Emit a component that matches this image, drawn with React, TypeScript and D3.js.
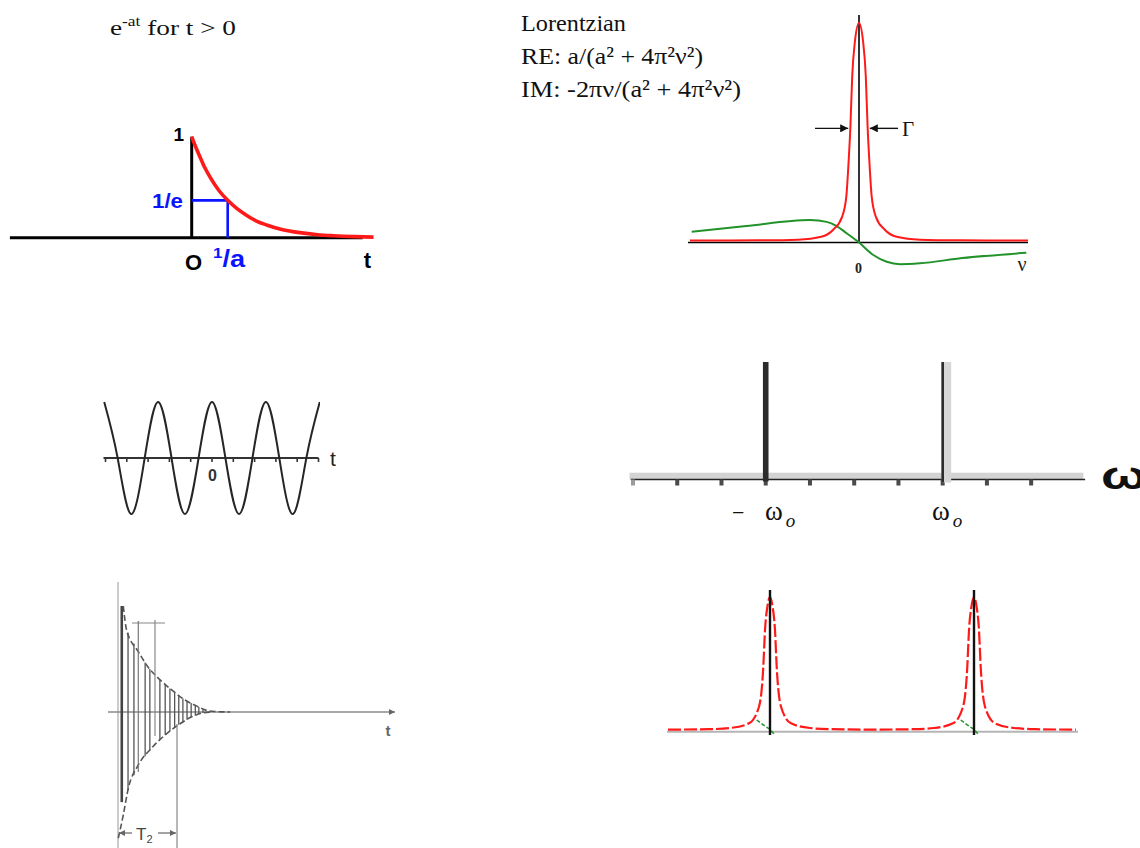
import React from 'react';
import * as d3 from 'd3';

const W = 1140;
const H = 848;
const SERIF = '"Liberation Serif", "Times New Roman", serif';
const SANS = '"Liberation Sans", Arial, sans-serif';
const RED = '#ff1a1a';
const GREEN = '#22922a';
const BLUE = '#0a14ff';

// ---- Panel 1: e^{-at}, t in units of 1/a ----
const decayT = [0, 0.12, 0.23, 0.37, 0.51, 0.75, 1.0, 1.25, 1.53, 1.8, 2.08, 2.5, 3.0, 3.5, 3.93, 4.5, 5.05];
const decayV = [1, 0.89, 0.8, 0.69, 0.6, 0.47, 0.37, 0.29, 0.22, 0.165, 0.126, 0.082, 0.05, 0.03, 0.02, 0.011, 0.006];
const decayAxisT = [-5.05, 4.75];
const markT = 1.0; // 1/a
const markV = 0.37; // 1/e

// ---- Panel 2: Lorentzian real (absorption) and imaginary (dispersion) parts ----
const reNu = [-10, -6, -3.6, -2.23, -1.54, -1.0, -0.75, -0.61, -0.51, -0.4, -0.25, 0, 0.25, 0.4, 0.51, 0.61, 0.75, 1.0, 1.54, 2.23, 3.6, 6, 10];
const reV = [0.009, 0.01, 0.013, 0.026, 0.057, 0.117, 0.21, 0.375, 0.525, 0.76, 0.91, 1.0, 0.91, 0.76, 0.525, 0.375, 0.21, 0.117, 0.057, 0.026, 0.013, 0.01, 0.009];
const imNu = [-9.9, -6.67, -2.9, -1.91, -1.32, -0.73, 0, 0.85, 1.64, 2.43, 3.6, 6.1, 9.9];
const imV = [0.049, 0.075, 0.102, 0.094, 0.075, 0.042, 0, -0.057, -0.088, -0.099, -0.095, -0.071, -0.047];
const nuDomain = [-10, 10];
const gammaHalf = 0.55; // half width of the marked line width
const lorentzLines = ['Lorentzian', 'RE: a/(a\u00B2 + 4\u03C0\u00B2\u03BD\u00B2)', 'IM: -2\u03C0\u03BD/(a\u00B2 + 4\u03C0\u00B2\u03BD\u00B2)'];
const lorentzWidths = [105, 182, 220];

// ---- Panel 3: cos(w0 t), points at quarter periods ----
const cosT = [-5.06, -4.43, -3.8, -3.16, -2.53, -1.9, -1.27, -0.63, 0, 0.63, 1.27, 1.9, 2.53, 3.16, 3.8, 4.43, 5.06];
const cosV = [1, 0, -1, 0, 1, 0, -1, 0, 1, 0, -1, 0, 1, 0, -1, 0, 1];
const cosTicks = [-5, -4, -3, -2, -1, 0, 1, 2, 3, 4, 5];

// ---- Panel 4: spectrum of the cosine, two delta lines at -w0 and +w0 ----
const specTicks = [-5, -4, -3, -2, -1, 0, 1, 2, 3, 4];
const deltaPos = [-2, 2];
const deltaAmp = [1, 1];

// ---- Panel 5: free induction decay (t in units of T2) ----
const fidUpperT = [0.09, 0.147, 0.344, 0.514, 0.683, 0.91, 1.136, 1.36, 1.475, 1.64, 1.9];
const fidUpperV = [1.0, 0.77, 0.57, 0.42, 0.32, 0.208, 0.113, 0.05, 0.02, 0.005, 0];
const fidLowerT = [0.005, 0.09, 0.175, 0.344, 0.57, 0.797, 1.02, 1.25, 1.42, 1.6];
const fidLowerV = [-1.19, -0.97, -0.72, -0.5, -0.34, -0.217, -0.123, -0.045, -0.01, 0];
const fidStrokeT = [0.17, 0.27, 0.46, 0.54, 0.71, 0.8, 0.88, 0.96, 1.03, 1.1, 1.17, 1.24, 1.31, 1.37, 1.44];
const fidSpikeT = 0.064;
const fidPeriodT = [0.344, 0.627];

// ---- Panel 6: two Lorentzian lines at -w0 and +w0 ----
const peakCenters = [-1, 1];
const peakDx = [-1, -0.6, -0.392, -0.206, -0.108, -0.066, -0.049, -0.025, 0, 0.025, 0.049, 0.066, 0.108, 0.206, 0.392, 0.6, 1];
const peakV = [0.003, 0.006, 0.015, 0.05, 0.175, 0.47, 0.75, 0.93, 1.0, 0.93, 0.75, 0.47, 0.175, 0.05, 0.015, 0.006, 0.003];
const dispDx = [-0.13, -0.07, 0, 0.049];
const dispV = [0.075, 0.04, 0.005, -0.038];

function interp(ts: number[], vs: number[], t: number) {
  if (t <= ts[0]) return vs[0];
  if (t >= ts[ts.length - 1]) return vs[vs.length - 1];
  const i = d3.bisectRight(ts, t);
  const k = (t - ts[i - 1]) / (ts[i] - ts[i - 1]);
  return vs[i - 1] + k * (vs[i] - vs[i - 1]);
}

function lineOf(xs: number[], ys: number[], sx: (v: number) => number, sy: (v: number) => number, curve: d3.CurveFactory) {
  return d3
    .line<number>()
    .x((_, i) => sx(xs[i]))
    .y((d) => sy(d))
    .curve(curve)(ys) as string;
}

export default function App() {
  // Panel 1 scales
  const x1 = d3.scaleLinear().domain([0, 1]).range([191.7, 227.7]);
  const y1 = d3.scaleLinear().domain([0, 1]).range([237.7, 136.7]);
  const decayPath = lineOf(decayT, decayV, x1, y1, d3.curveMonotoneX);

  // Panel 2 scales
  const x2 = d3.scaleLinear().domain(nuDomain).range([690, 1028]);
  const y2 = d3.scaleLinear().domain([0, 1]).range([242.5, 23]);
  const rePath = lineOf(reNu, reV, x2, y2, d3.curveMonotoneX);
  const imPath = lineOf(imNu, imV, x2, y2, d3.curveMonotoneX);
  const arrowY = y2(0.52);

  // Panel 3 scales
  const x3 = d3.scaleLinear().domain([-5, 5]).range([105.5, 318.5]);
  const y3 = d3.scaleLinear().domain([-1, 1]).range([514, 402]);
  const cosPath = lineOf(cosT, cosV, x3, y3, d3.curveNatural);

  // Panel 4 scales
  const x4 = d3.scaleLinear().domain([-5, 5]).range([633, 1075.4]);
  const y4 = d3.scaleLinear().domain([0, 1]).range([479.5, 362]);

  // Panel 5 scales
  const x5 = d3.scaleLinear().domain([0, 1]).range([118, 177]);
  const y5 = d3.scaleLinear().domain([-1, 1]).range([818, 606]);
  const upperPath = lineOf(fidUpperT, fidUpperV, x5, y5, d3.curveMonotoneX);
  const lowerPath = lineOf(fidLowerT, fidLowerV, x5, y5, d3.curveMonotoneX);

  // Panel 6 scales
  const x6 = d3.scaleLinear().domain([-2, 2]).range([668, 1076]);
  const y6 = d3.scaleLinear().domain([0, 1]).range([730, 597]);
  const redT: number[] = [];
  const redV: number[] = [];
  peakCenters.forEach((c, j) => {
    peakDx.forEach((dx, i) => {
      if (j > 0 && i === 0) return;
      redT.push(c + dx);
      redV.push(peakV[i]);
    });
  });
  const redPath = lineOf(redT, redV, x6, y6, d3.curveMonotoneX);

  return (
    <svg
      width={W}
      height={H}
      viewBox={`0 0 ${W} ${H}`}
      style={{ position: 'absolute', left: 0, top: 0, background: '#fff', display: 'block' }}
    >
      <defs>
        <marker id="ah" viewBox="0 0 10 10" refX="10" refY="5" markerWidth="9" markerHeight="8" markerUnits="userSpaceOnUse" orient="auto">
          <path d="M0,0 L10,5 L0,10 z" fill="#111" />
        </marker>
        <marker id="ahg" viewBox="0 0 10 10" refX="10" refY="5" markerWidth="8" markerHeight="6" markerUnits="userSpaceOnUse" orient="auto">
          <path d="M0,0 L10,5 L0,10 z" fill="#666" />
        </marker>
        <clipPath id="cosClip">
          <rect x={103} y={380} width={217} height={150} />
        </clipPath>
      </defs>
      <rect x={0} y={0} width={W} height={H} fill="#fff" />

      {/* ===== Panel 1: exponential decay ===== */}
      <text x={110} y={35} fontFamily={SERIF} fontSize={22} fill="#111" textLength={126} lengthAdjust="spacingAndGlyphs">
        e<tspan fontSize={14} dy={-9}>-at</tspan>
        <tspan dy={9}> for t &gt; 0</tspan>
      </text>
      <line x1={x1(decayAxisT[0])} x2={x1(decayAxisT[1])} y1={y1(0)} y2={y1(0)} stroke="#000" strokeWidth={3} />
      <line x1={x1(0)} x2={x1(0)} y1={y1(0)} y2={y1(1)} stroke="#000" strokeWidth={3} />
      <path
        d={`M${x1(0)},${y1(markV)} H${x1(markT)} V${y1(0)}`}
        fill="none"
        stroke={BLUE}
        strokeWidth={2.6}
      />
      <path d={decayPath} fill="none" stroke={RED} strokeWidth={3.6} />
      <text x={184} y={141} textAnchor="end" fontFamily={SANS} fontWeight="bold" fontSize={19}>1</text>
      <text x={183} y={208} textAnchor="end" fontFamily={SANS} fontWeight="bold" fontSize={20} fill={BLUE} textLength={31} lengthAdjust="spacingAndGlyphs">1/e</text>
      <text x={193.5} y={270} textAnchor="middle" fontFamily={SANS} fontWeight="bold" fontSize={22}>O</text>
      <text x={213} y={267} fontFamily={SANS} fontWeight="bold" fontSize={24} fill={BLUE} textLength={32} lengthAdjust="spacingAndGlyphs">
        <tspan fontSize={15} dy={-9}>1</tspan>
        <tspan dy={9}>/a</tspan>
      </text>
      <text x={367.5} y={268} textAnchor="middle" fontFamily={SANS} fontWeight="bold" fontSize={22}>t</text>

      {/* ===== Panel 2: Lorentzian ===== */}
      {lorentzLines.map((s, i) => (
        <text key={s} x={521} y={30.5 + i * 33} fontFamily={SERIF} fontSize={24} fill="#111" textLength={lorentzWidths[i]} lengthAdjust="spacingAndGlyphs">
          {s}
        </text>
      ))}
      <line x1={688} x2={x2(nuDomain[1])} y1={y2(0)} y2={y2(0)} stroke="#000" strokeWidth={1.6} />
      <line x1={x2(0)} x2={x2(0)} y1={y2(0)} y2={15} stroke="#000" strokeWidth={1.6} />
      <path d={imPath} fill="none" stroke={GREEN} strokeWidth={2} />
      <path d={rePath} fill="none" stroke={RED} strokeWidth={2} />
      <line x1={815} x2={x2(-gammaHalf) - 1.5} y1={arrowY} y2={arrowY} stroke="#111" strokeWidth={1.4} markerEnd="url(#ah)" />
      <line x1={898} x2={x2(gammaHalf) + 1.5} y1={arrowY} y2={arrowY} stroke="#111" strokeWidth={1.4} markerEnd="url(#ah)" />
      <text x={902} y={136} fontFamily={SERIF} fontSize={21} fill="#111">{'\u0393'}</text>
      <text x={x2(0) - 0.5} y={273} textAnchor="middle" fontFamily={SERIF} fontWeight="bold" fontSize={14} fill="#222">0</text>
      <text x={1022} y={271} textAnchor="middle" fontFamily={SERIF} fontSize={20} fill="#222">{'\u03BD'}</text>

      {/* ===== Panel 3: cosine in time ===== */}
      <line x1={x3(-5) - 2} x2={x3(5)} y1={y3(0)} y2={y3(0)} stroke="#333" strokeWidth={2} />
      {cosTicks.map((t) => (
        <line key={t} x1={x3(t)} x2={x3(t)} y1={y3(0)} y2={y3(0) + 4} stroke="#333" strokeWidth={1.6} />
      ))}
      <path d={cosPath} fill="none" stroke="#262626" strokeWidth={2} clipPath="url(#cosClip)" />
      <text x={x3(0) + 0.5} y={481} textAnchor="middle" fontFamily={SANS} fontWeight="bold" fontSize={16} fill="#333">0</text>
      <text x={333} y={466} textAnchor="middle" fontFamily={SANS} fontSize={21} fill="#222">t</text>

      {/* ===== Panel 4: delta lines ===== */}
      <rect x={x4(-5.08)} y={472.7} width={x4(5.18) - x4(-5.08)} height={y4(0) - 472.7} fill="#d3d3d3" />
      <line x1={x4(-5.05)} x2={x4(5.22)} y1={y4(0)} y2={y4(0)} stroke="#222" strokeWidth={1.5} />
      {specTicks.map((k, i) => (
        <rect key={k} x={x4(k) - 2} y={y4(0)} width={4} height={6} fill={i === 0 ? '#9a9a9a' : '#4a4a4a'} />
      ))}
      {deltaPos.map((p, i) =>
        i === 0 ? (
          <rect key={p} x={x4(p) - 2.8} y={y4(deltaAmp[i])} width={5.6} height={y4(0) - y4(deltaAmp[i]) + 2} fill="#2b2b2b" />
        ) : (
          <g key={p}>
            <rect x={x4(p) - 1} y={y4(deltaAmp[i])} width={9.5} height={y4(0) - y4(deltaAmp[i]) + 3} fill="#d6d6d6" />
            <rect x={x4(p) - 1.3} y={y4(deltaAmp[i])} width={2.6} height={y4(0) - y4(deltaAmp[i]) + 3} fill="#2b2b2b" />
          </g>
        )
      )}
      <text x={732} y={520} fontFamily={SERIF} fontSize={22} fill="#111">{'\u2212'}</text>
      {deltaPos.map((p, i) => (
        <text key={p} x={x4(p) + (i === 0 ? 17 : 7)} y={520} textAnchor="end" fontFamily={SERIF} fontSize={27} fill="#111">
          {'\u03C9'}
        </text>
      ))}
      {deltaPos.map((p, i) => (
        <text key={p} x={x4(p) + (i === 0 ? 20 : 10)} y={527} fontFamily={SERIF} fontStyle="italic" fontSize={19} fill="#111">o</text>
      ))}
      <text x={1101} y={489} fontFamily={SANS} fontWeight="bold" fontSize={38} fill="#111" textLength={46} lengthAdjust="spacingAndGlyphs">{'\u03C9'}</text>

      {/* ===== Panel 5: free induction decay ===== */}
      <line x1={x5(0)} x2={x5(0)} y1={582} y2={H} stroke="#aaa" strokeWidth={1.2} />
      <line x1={108} x2={395} y1={y5(0)} y2={y5(0)} stroke="#8a8a8a" strokeWidth={1.5} markerEnd="url(#ahg)" />
      {fidStrokeT.map((t) => (
        <line
          key={t}
          x1={x5(t)}
          x2={x5(t)}
          y1={y5(interp(fidUpperT, fidUpperV, t))}
          y2={y5(interp(fidLowerT, fidLowerV, t))}
          stroke="#555"
          strokeWidth={1.3}
        />
      ))}
      <line x1={x5(fidSpikeT)} x2={x5(fidSpikeT)} y1={y5(1)} y2={y5(-0.85)} stroke="#444" strokeWidth={2.6} />
      <path d={upperPath} fill="none" stroke="#555" strokeWidth={1.6} strokeDasharray="6,3" />
      <path d={lowerPath} fill="none" stroke="#555" strokeWidth={1.6} strokeDasharray="6,3" />
      <line x1={x5(0.237)} x2={x5(0.797)} y1={623} y2={623} stroke="#888" strokeWidth={1.2} />
      <line x1={x5(fidPeriodT[0])} x2={x5(fidPeriodT[0])} y1={621} y2={772} stroke="#777" strokeWidth={1.2} />
      <line x1={x5(fidPeriodT[1])} x2={x5(fidPeriodT[1])} y1={620} y2={736} stroke="#888" strokeWidth={1.2} />
      <line x1={x5(1)} x2={x5(1)} y1={724} y2={H} stroke="#888" strokeWidth={1.2} />
      <line x1={132} x2={x5(0) + 1} y1={833} y2={833} stroke="#666" strokeWidth={1.2} markerEnd="url(#ahg)" />
      <line x1={158} x2={x5(1) - 1} y1={833} y2={833} stroke="#666" strokeWidth={1.2} markerEnd="url(#ahg)" />
      <text x={136} y={840} fontFamily={SANS} fontSize={17} fill="#444">
        T<tspan fontSize={11} dy={3}>2</tspan>
      </text>
      <text x={388} y={736} textAnchor="middle" fontFamily={SANS} fontWeight="bold" fontSize={15} fill="#666">t</text>

      {/* ===== Panel 6: broadened lines ===== */}
      <line x1={x6(-2) - 1} x2={x6(2) + 2} y1={731.7} y2={731.7} stroke="#b5b5b5" strokeWidth={2} />
      <path d={redPath} fill="none" stroke={RED} strokeWidth={2.2} strokeDasharray="13,3" />
      {peakCenters.map((c) => (
        <path
          key={c}
          d={lineOf(dispDx.map((d) => c + d), dispV, x6, y6, d3.curveLinear)}
          fill="none"
          stroke={GREEN}
          strokeWidth={1.5}
          strokeDasharray="4,2"
        />
      ))}
      {peakCenters.map((c) => (
        <line key={c} x1={x6(c)} x2={x6(c)} y1={590} y2={735} stroke="#111" strokeWidth={2.4} />
      ))}
    </svg>
  );
}
